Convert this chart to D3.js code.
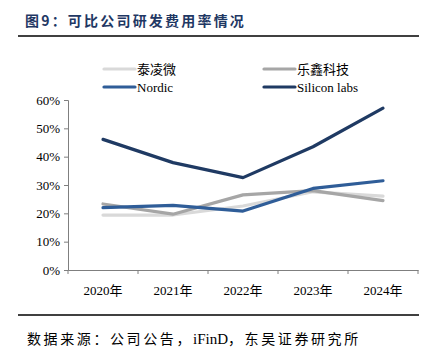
<!DOCTYPE html>
<html>
<head>
<meta charset="utf-8">
<script src="https://cdn.jsdelivr.net/npm/d3@7"></script>
<style>
  body { margin: 0; background: #fff; }
  svg text { font-family: "Liberation Serif", "Noto Sans CJK SC", serif; }
</style>
</head>
<body>
<div id="chart"></div>
<script>
// 可比公司研发费用率
const years = ["2020年", "2021年", "2022年", "2023年", "2024年"];
const yTicks = [0, 0.1, 0.2, 0.3, 0.4, 0.5, 0.6];

const tlw     = [0.194, 0.194, 0.226, 0.276, 0.261]; // 泰凌微
const lexin   = [0.233, 0.197, 0.265, 0.280, 0.245]; // 乐鑫科技
const nordic  = [0.220, 0.228, 0.208, 0.288, 0.315]; // Nordic
const silicon = [0.461, 0.379, 0.326, 0.435, 0.571]; // Silicon labs

const series = [
  { name: "泰凌微",      values: tlw,     color: "#d9d9d9" },
  { name: "乐鑫科技",    values: lexin,   color: "#a6a6a6" },
  { name: "Nordic",      values: nordic,  color: "#2f5d98" },
  { name: "Silicon labs", values: silicon, color: "#1f3a63" }
];

const W = 437, H = 353;
const margin = { top: 100, right: 19, bottom: 83, left: 68 };
const width  = W - margin.left - margin.right;
const height = H - margin.top - margin.bottom;

const svg = d3.select("#chart").append("svg")
  .attr("width", W).attr("height", H);

// 标题
svg.append("text")
  .attr("x", 25).attr("y", 26)
  .attr("fill", "#1f3864")
  .attr("font-size", "14px")
  .attr("font-weight", "bold")
  .attr("letter-spacing", "2.2px")
  .style("font-family", "'Noto Sans CJK SC', sans-serif")
  .text("图9：可比公司研发费用率情况");

svg.append("line")
  .attr("x1", 18).attr("x2", 419).attr("y1", 36).attr("y2", 36)
  .attr("stroke", "#000").attr("stroke-width", 1.5);

svg.append("line")
  .attr("x1", 18).attr("x2", 419).attr("y1", 315).attr("y2", 315)
  .attr("stroke", "#000").attr("stroke-width", 1.5);

// 数据来源
const src = svg.append("text")
  .attr("x", 27).attr("y", 344)
  .attr("fill", "#000")
  .attr("font-size", "14px");
src.append("tspan")
  .attr("letter-spacing", "2.6px")
  .style("font-family", "'Noto Sans CJK SC', sans-serif")
  .text("数据来源：公司公告，");
src.append("tspan")
  .style("font-family", "'Liberation Serif', serif")
  .style("font-size", "15px")
  .text("iFinD");
src.append("tspan")
  .attr("letter-spacing", "2.6px")
  .style("font-family", "'Noto Sans CJK SC', sans-serif")
  .text("，东吴证券研究所");

const g = svg.append("g")
  .attr("transform", `translate(${margin.left},${margin.top})`);

const x = d3.scaleBand().domain(years).range([0, width]);
const y = d3.scaleLinear().domain([0, 0.6]).range([height, 0]);

// y 轴
const yAxis = g.append("g")
  .call(d3.axisLeft(y).tickValues(yTicks).tickFormat(d3.format(".0%")).tickSize(4).tickPadding(4));
yAxis.select(".domain").attr("stroke", "#7f7f7f");
yAxis.selectAll(".tick line").attr("stroke", "#7f7f7f");
yAxis.selectAll("text")
  .attr("fill", "#000")
  .style("font-size", "13px")
  .style("font-family", "'Liberation Serif', serif");

// x 轴
const xAxis = g.append("g")
  .attr("transform", `translate(0,${height})`)
  .call(d3.axisBottom(x).tickSize(0).tickPadding(16));
xAxis.select(".domain").attr("stroke", "#7f7f7f");
xAxis.selectAll("text")
  .attr("fill", "#000")
  .style("font-size", "13px")
  .style("font-family", "'Liberation Serif', 'Noto Sans CJK SC', serif");
// 分隔刻度
g.append("g").selectAll("line")
  .data(years.concat(["end"]))
  .enter().append("line")
  .attr("x1", (d, i) => i < years.length ? x(d) : width)
  .attr("x2", (d, i) => i < years.length ? x(d) : width)
  .attr("y1", height).attr("y2", height + 4)
  .attr("stroke", "#7f7f7f");

// 折线
const line = d3.line()
  .x((d, i) => x(years[i]) + x.bandwidth() / 2)
  .y(d => y(d));

g.selectAll(".series")
  .data(series)
  .enter().append("path")
  .attr("d", d => line(d.values))
  .attr("fill", "none")
  .attr("stroke", d => d.color)
  .attr("stroke-width", 3.2)
  .attr("stroke-linejoin", "round")
  .attr("stroke-linecap", "round");

// 图例
const legendPos = [
  { x: 104, y: 69 }, { x: 264, y: 69 },
  { x: 104, y: 87 }, { x: 264, y: 87 }
];
const leg = svg.selectAll(".legend")
  .data(series)
  .enter().append("g")
  .attr("transform", (d, i) => `translate(${legendPos[i].x},${legendPos[i].y})`);
leg.append("line")
  .attr("x1", 0).attr("x2", 31).attr("y1", 0).attr("y2", 0)
  .attr("stroke", d => d.color)
  .attr("stroke-width", 3.2)
  .attr("stroke-linecap", "round");
leg.append("text")
  .attr("x", 33).attr("y", 4.5)
  .attr("fill", "#000")
  .attr("font-size", "13px")
  .text(d => d.name);
</script>
</body>
</html>
